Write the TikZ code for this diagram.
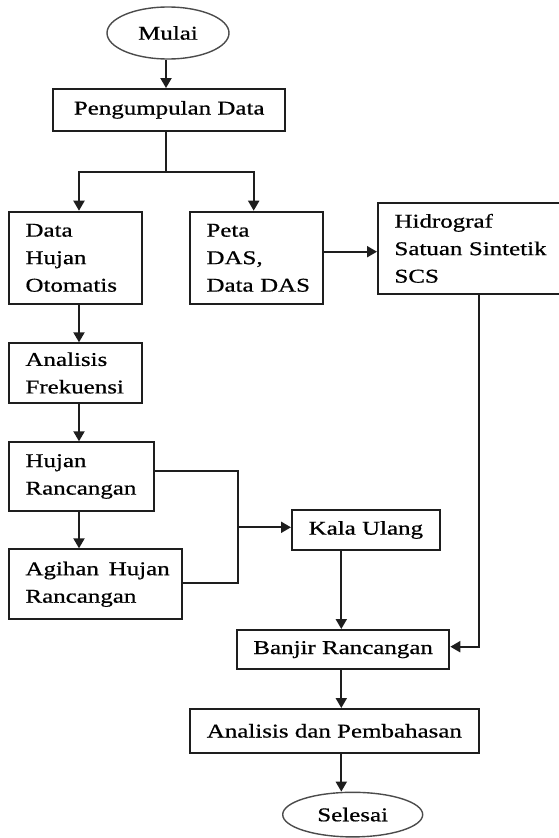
\documentclass[tikz,border=0pt]{standalone}
\usepackage{fontspec}
\setmainfont{Liberation Serif}[FakeStretch=1.28,FakeBold=0.7]
\usetikzlibrary{arrows.meta,shapes.geometric}
\definecolor{ln}{HTML}{1E1E1E}
\begin{document}
\begin{tikzpicture}[x=1pt,y=-1pt,
  every node/.style={font=\fontsize{19.5pt}{27.5pt}\selectfont, text=black},
  box/.style={draw=ln, line width=2pt, rectangle, inner sep=0pt, align=center},
  lbox/.style={draw=ln, line width=2pt, rectangle, inner ysep=0pt, inner xsep=16.5pt, text width=#1, align=left},
  term/.style={draw=ln!80, line width=1.4pt, ellipse, inner sep=0pt},
  link/.style={draw=ln, line width=2pt},
  arr/.style={link, -{Triangle[length=10pt,width=11pt]}}]
\useasboundingbox (0,0) rectangle (558,838);
% nodes
\node[term, minimum width=122pt, minimum height=52pt] (mulai) at (168,33) {Mulai};
\node[box, minimum width=232.3pt, minimum height=41.7pt] (peng) at (169.2,109.9) {Pengumpulan Data};
\node[lbox=99.7pt, minimum width=132.7pt, minimum height=92.3pt] (dho) at (75.35,257.85) {\mbox{Data}\\\mbox{Hujan}\\\mbox{Otomatis}};
\node[lbox=99.7pt, minimum width=132.7pt, minimum height=92.3pt] (peta) at (256.35,257.85) {\mbox{Peta}\\\mbox{DAS,}\\\mbox{Data DAS}};
\node[lbox=172pt, minimum width=205pt, minimum height=91.3pt] (hsss) at (480.5,248.35) {\mbox{Hidrograf}\\\mbox{Satuan Sintetik}\\\mbox{SCS}};
\node[lbox=99.7pt, minimum width=132.7pt, minimum height=59.4pt] (af) at (75.35,373) {\mbox{Analisis}\\\mbox{Frekuensi}};
\node[lbox=112pt, minimum width=145pt, minimum height=68.4pt] (hr) at (81.5,476.5) {\mbox{Hujan}\\\mbox{Rancangan}};
\node[lbox=139.7pt, minimum width=172.7pt, minimum height=70pt] (ahr) at (95.35,584.3) {\mbox{Agihan\hspace{0.5em}Hujan}\\\mbox{Rancangan}};
\node[box, minimum width=147.7pt, minimum height=40pt] (kala) at (365.85,530) {Kala Ulang};
\node[box, minimum width=212.3pt, minimum height=39.3pt] (banjir) at (343.15,649.65) {Banjir Rancangan};
\node[box, minimum width=288.7pt, minimum height=43.7pt] (apb) at (334.35,730.85) {Analisis dan Pembahasan};
\node[term, minimum width=140pt, minimum height=44.6pt] (sel) at (352.7,814.6) {Selesai};
% helper coordinates
\coordinate (cT) at (166,172);
\coordinate (cL) at (79,0);
\coordinate (cP) at (253.7,0);
\coordinate (yph) at (0,251.7);
\coordinate (cR) at (478.7,646.7);
\coordinate (j1) at (237.7,471);
\coordinate (j2) at (237.7,583.3);
\coordinate (j3) at (237.7,527.3);
\coordinate (cM) at (341.3,0);
% connectors
\draw[arr] (mulai.south -| cT) -- (peng.north -| cT);
\draw[link] (peng.south -| cT) -- (cT);
\draw[arr] (cT) -| (cL |- dho.north);
\draw[arr] (cT) -| (cP |- peta.north);
\draw[arr] (peta.east |- yph) -- (hsss.west |- yph);
\draw[arr] (cL |- dho.south) -- (cL |- af.north);
\draw[arr] (cL |- af.south) -- (cL |- hr.north);
\draw[arr] (cL |- hr.south) -- (cL |- ahr.north);
\draw[link] (hr.east |- j1) -- (j1) -- (j2) -- (j2 -| ahr.east);
\draw[arr] (j3) -- (j3 -| kala.west);
\draw[arr] (cM |- kala.south) -- (cM |- banjir.north);
\draw[arr] (cR |- hsss.south) -- (cR) -- (cR -| banjir.east);
\draw[arr] (cM |- banjir.south) -- (cM |- apb.north);
\draw[arr] (cM |- apb.south) -- (cM |- sel.north);
\end{tikzpicture}
\end{document}
